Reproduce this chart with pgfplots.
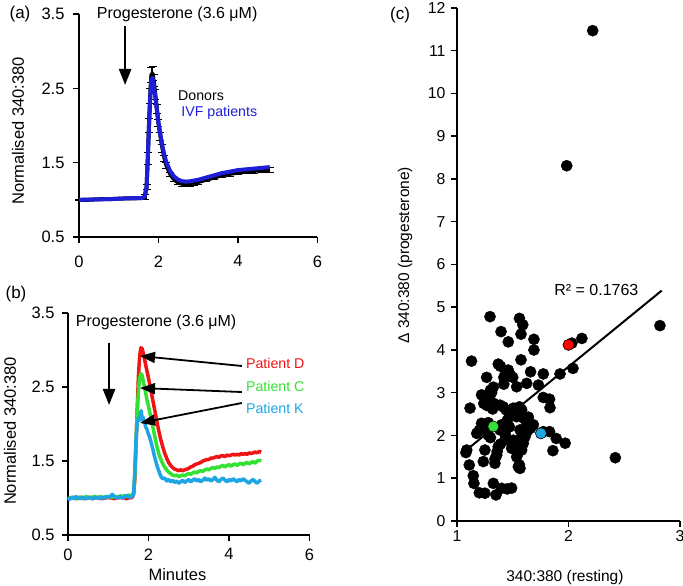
\documentclass[border=0pt]{standalone}
\usepackage{fontspec}
\setmainfont{Liberation Sans}
\usepackage{pgfplots}
\pgfplotsset{compat=1.18}
\usetikzlibrary{arrows.meta}

\definecolor{ivfblue}{RGB}{30,30,215}
\definecolor{pd}{RGB}{240,20,20}
\definecolor{pc}{RGB}{50,225,50}
\definecolor{pk}{RGB}{30,165,228}

\pgfplotsset{
  panel/.style={
    scale only axis, anchor=south west, clip=false,
    axis lines=left, axis line style={-, line width=1.8pt},
    tick style={line width=1.5pt, black},
    tick align=outside, major tick length=6pt,
    /pgf/number format/assume math mode=true,
    tick label style={font=\fontsize{16.5}{18}\selectfont},
    label style={font=\fontsize{16.5}{19}\selectfont},
  },
}
\tikzset{
  note/.style={font=\fontsize{16}{19}\selectfont, inner sep=0pt},
  small/.style={font=\fontsize{14.2}{17}\selectfont, inner sep=0pt},
  bigarrow/.style={line width=2.5pt, -{Triangle[length=16pt,width=12pt]}},
}

\begin{document}
\begin{tikzpicture}
\useasboundingbox (0,0) rectangle (683pt,586pt);

% ---------- (a) donors vs IVF patients
\begin{axis}[panel, at={(79pt,349pt)}, width=238.5pt, height=223pt,
  xmin=0, xmax=6, ymin=0.5, ymax=3.5,
  xtick={0,2,4,6}, ytick={0.5,1.5,2.5,3.5},
  xticklabel style={yshift=-9pt}, yticklabel style={xshift=-5pt},
  ylabel={Normalised 340:380},
  ylabel style={at={(axis description cs:-0.256,0.475)}, anchor=center}]
\addplot[black, line width=4pt, line join=round,
  error bars/.cd, y dir=both, y explicit,
  error bar style={line width=1pt},
  error mark options={rotate=90, line width=1pt, mark size=4pt, black}]
  table[x=x, y=y, y error=e] {
x y e
0.00 1.000 0.005
0.20 1.000 0.005
0.40 1.005 0.005
0.60 1.010 0.005
0.80 1.010 0.005
1.00 1.015 0.005
1.20 1.020 0.005
1.40 1.020 0.005
1.60 1.025 0.005
1.65 1.040 0.03
1.70 1.170 0.03
1.73 1.550 0.08
1.76 2.000 0.10
1.79 2.400 0.10
1.82 2.680 0.10
1.85 2.700 0.10
1.88 2.600 0.08
1.92 2.420 0.07
1.96 2.220 0.06
2.00 2.030 0.05
2.05 1.850 0.05
2.10 1.690 0.05
2.15 1.560 0.04
2.20 1.460 0.04
2.30 1.340 0.03
2.40 1.270 0.03
2.50 1.230 0.03
2.60 1.215 0.03
2.70 1.210 0.03
2.80 1.215 0.03
2.90 1.225 0.03
3.00 1.240 0.03
3.20 1.270 0.03
3.40 1.300 0.03
3.60 1.330 0.03
3.80 1.350 0.03
4.00 1.365 0.03
4.20 1.380 0.03
4.40 1.390 0.03
4.60 1.395 0.03
4.80 1.400 0.03
};
\addplot[ivfblue, line width=4pt, line join=round] coordinates {
(0.00,1.000) (0.40,1.005) (0.80,1.010) (1.20,1.020) (1.60,1.025)
(1.66,1.050) (1.70,1.170) (1.73,1.550) (1.76,1.980) (1.79,2.350)
(1.82,2.620) (1.85,2.640) (1.88,2.550) (1.92,2.380) (1.96,2.200)
(2.00,2.030) (2.05,1.870) (2.10,1.720) (2.15,1.600) (2.20,1.500)
(2.30,1.380) (2.40,1.310) (2.50,1.270) (2.60,1.250) (2.70,1.245)
(2.80,1.250) (3.00,1.270) (3.20,1.300) (3.40,1.330) (3.60,1.360)
(3.80,1.380) (4.00,1.400) (4.20,1.410) (4.40,1.420) (4.60,1.430)
(4.80,1.440)};
\node[note] at (axis cs:2.47,3.50) {Progesterone (3.6 μM)};
\draw[bigarrow] (axis cs:1.16,3.34) -- (axis cs:1.16,2.545);
\node[small, anchor=west] at (axis cs:2.49,2.40) {Donors};
\node[small, anchor=west, text=ivfblue] at (axis cs:2.57,2.17) {IVF patients};
\end{axis}

% ---------- (b) single patients
\begin{axis}[panel, at={(68pt,51pt)}, width=241.5pt, height=222pt,
  xmin=0, xmax=6, ymin=0.5, ymax=3.5,
  xtick={0,2,4,6}, ytick={0.5,1.5,2.5,3.5},
  xticklabel style={yshift=-4pt}, yticklabel style={xshift=-4pt},
  xlabel={Minutes},
  xlabel style={at={(axis description cs:0.453,-0.18)}, anchor=center},
  ylabel={Normalised 340:380},
  ylabel style={at={(axis description cs:-0.240,0.468)}, anchor=center}]
\addplot[pd, line width=3.5pt, line join=round] coordinates {
(0.00,1.00) (0.05,0.99) (0.10,1.01) (0.15,1.00) (0.20,0.99) (0.25,1.00)
(0.30,1.01) (0.35,1.00) (0.40,0.99) (0.45,1.00) (0.50,1.00) (0.55,1.01)
(0.60,0.99) (0.65,1.00) (0.70,1.00) (0.75,1.01) (0.80,1.00) (0.85,0.99)
(0.90,1.00) (0.95,1.00) (1.00,1.01) (1.05,1.00) (1.10,1.00) (1.15,0.99)
(1.20,1.00) (1.25,1.00) (1.30,1.01) (1.35,1.00) (1.40,1.00) (1.45,0.99)
(1.50,1.00) (1.55,1.00) (1.60,1.01) (1.63,1.05) (1.66,1.25) (1.69,1.70)
(1.72,2.20) (1.75,2.65) (1.78,2.92) (1.81,3.03) (1.84,3.02) (1.87,2.96)
(1.90,2.88) (1.93,2.80) (1.96,2.72) (2.00,2.62) (2.05,2.48) (2.10,2.34)
(2.15,2.20) (2.20,2.06) (2.25,1.92) (2.30,1.80) (2.35,1.70) (2.40,1.61)
(2.45,1.54) (2.50,1.48) (2.55,1.44) (2.60,1.41) (2.65,1.39) (2.70,1.38)
(2.75,1.37) (2.80,1.38) (2.85,1.37) (2.90,1.38) (2.95,1.39) (3.00,1.40)
(3.05,1.42) (3.10,1.43) (3.15,1.45) (3.20,1.46) (3.25,1.47) (3.30,1.48)
(3.35,1.50) (3.40,1.51) (3.45,1.52) (3.50,1.52) (3.55,1.54) (3.60,1.54)
(3.65,1.55) (3.70,1.56) (3.75,1.55) (3.80,1.57) (3.85,1.57) (3.90,1.56)
(3.95,1.58) (4.00,1.57) (4.05,1.58) (4.10,1.59) (4.15,1.58) (4.20,1.59)
(4.25,1.58) (4.30,1.60) (4.35,1.59) (4.40,1.60) (4.45,1.59) (4.50,1.61)
(4.55,1.60) (4.60,1.61) (4.65,1.62) (4.70,1.61) (4.75,1.63) (4.80,1.62)};
\addplot[pc, line width=3.5pt, line join=round] coordinates {
(0.00,0.99) (0.05,1.00) (0.10,1.00) (0.15,1.01) (0.20,0.99) (0.25,1.00)
(0.30,1.01) (0.35,1.01) (0.40,1.00) (0.45,1.02) (0.50,1.01) (0.55,1.00)
(0.60,1.01) (0.65,1.02) (0.70,1.01) (0.75,1.00) (0.80,1.02) (0.85,1.01)
(0.90,1.01) (0.95,1.02) (1.00,1.01) (1.05,1.02) (1.10,1.01) (1.15,1.02)
(1.20,1.02) (1.25,1.01) (1.30,1.03) (1.35,1.02) (1.40,1.03) (1.45,1.02)
(1.50,1.04) (1.55,1.03) (1.60,1.04) (1.63,1.08) (1.66,1.30) (1.69,1.75)
(1.72,2.15) (1.75,2.45) (1.78,2.62) (1.81,2.68) (1.84,2.66) (1.87,2.58)
(1.90,2.50) (1.93,2.42) (1.96,2.33) (2.00,2.24) (2.05,2.11) (2.10,1.98)
(2.15,1.85) (2.20,1.72) (2.25,1.61) (2.30,1.53) (2.35,1.47) (2.40,1.42)
(2.45,1.38) (2.50,1.35) (2.55,1.33) (2.60,1.31) (2.65,1.30) (2.70,1.31)
(2.75,1.29) (2.80,1.30) (2.85,1.31) (2.90,1.30) (2.95,1.32) (3.00,1.33)
(3.05,1.32) (3.10,1.34) (3.15,1.35) (3.20,1.34) (3.25,1.36) (3.30,1.37)
(3.35,1.36) (3.40,1.38) (3.45,1.39) (3.50,1.38) (3.55,1.40) (3.60,1.41)
(3.65,1.40) (3.70,1.42) (3.75,1.41) (3.80,1.43) (3.85,1.44) (3.90,1.42)
(3.95,1.44) (4.00,1.45) (4.05,1.43) (4.10,1.45) (4.15,1.46) (4.20,1.44)
(4.25,1.46) (4.30,1.47) (4.35,1.45) (4.40,1.47) (4.45,1.48) (4.50,1.46)
(4.55,1.48) (4.60,1.49) (4.65,1.47) (4.70,1.50) (4.75,1.51) (4.80,1.50)};
\addplot[pk, line width=3.5pt, line join=round] coordinates {
(0.00,0.97) (0.05,0.99) (0.10,1.01) (0.15,0.99) (0.20,1.02) (0.25,1.00)
(0.30,0.99) (0.35,1.01) (0.40,1.00) (0.45,0.99) (0.50,1.00) (0.55,1.01)
(0.60,0.99) (0.65,1.00) (0.70,1.01) (0.75,1.00) (0.80,0.99) (0.85,1.01)
(0.90,1.00) (0.95,1.02) (1.00,1.01) (1.05,1.02) (1.10,1.05) (1.15,1.02)
(1.20,1.00) (1.25,1.01) (1.30,1.02) (1.35,1.00) (1.40,1.01) (1.45,1.03)
(1.50,1.02) (1.55,1.01) (1.60,1.02) (1.63,1.06) (1.66,1.35) (1.69,1.80)
(1.72,2.02) (1.75,2.08) (1.78,2.05) (1.80,2.14) (1.82,2.18) (1.84,2.06)
(1.86,2.10) (1.88,2.02) (1.90,2.04) (1.93,1.96) (1.96,1.93) (2.00,1.86)
(2.03,1.82) (2.06,1.76) (2.10,1.68) (2.14,1.58) (2.18,1.50) (2.22,1.42)
(2.26,1.36) (2.30,1.30) (2.35,1.26) (2.40,1.27) (2.45,1.23) (2.50,1.25)
(2.55,1.22) (2.60,1.24) (2.65,1.21) (2.70,1.23) (2.75,1.20) (2.80,1.22)
(2.85,1.24) (2.90,1.21) (2.95,1.23) (3.00,1.25) (3.05,1.22) (3.10,1.24)
(3.15,1.26) (3.20,1.23) (3.25,1.25) (3.30,1.22) (3.35,1.24) (3.40,1.27)
(3.45,1.24) (3.50,1.26) (3.55,1.23) (3.60,1.25) (3.65,1.28) (3.70,1.24)
(3.75,1.22) (3.80,1.25) (3.85,1.27) (3.90,1.24) (3.95,1.22) (4.00,1.25)
(4.05,1.23) (4.10,1.26) (4.15,1.24) (4.20,1.22) (4.25,1.25) (4.30,1.23)
(4.35,1.26) (4.40,1.24) (4.45,1.22) (4.50,1.20) (4.55,1.23) (4.60,1.25)
(4.65,1.22) (4.70,1.20) (4.75,1.23) (4.80,1.24)};
\node[note] at (axis cs:2.19,3.378) {Progesterone (3.6 μM)};
\draw[bigarrow] (axis cs:1.02,3.09) -- (axis cs:1.02,2.257);
\draw[line width=1.8pt, -{Triangle[length=15pt,width=11pt]}] (axis cs:4.32,2.784) -- (axis cs:1.79,2.919);
\draw[line width=1.8pt, -{Triangle[length=15pt,width=11pt]}] (axis cs:4.32,2.432) -- (axis cs:1.79,2.486);
\draw[line width=1.8pt, -{Triangle[length=15pt,width=11pt]}] (axis cs:4.32,2.284) -- (axis cs:1.79,2.014);
\node[small, anchor=west, text=pd] at (axis cs:4.42,2.824) {Patient D};
\node[small, anchor=west, text=pc] at (axis cs:4.42,2.51) {Patient C};
\node[small, anchor=west, text=pk] at (axis cs:4.42,2.216) {Patient K};
\end{axis}

% ---------- (c) resting vs response
\begin{axis}[panel, at={(457pt,65pt)}, width=223pt, height=513pt,
  xmin=1, xmax=3, ymin=0, ymax=12,
  xtick={1,2,3}, ytick={0,1,...,12},
  tick label style={font=\fontsize{15.8}{17}\selectfont},
  yticklabel style={xshift=-2pt},
  label style={font=\fontsize{15.5}{18}\selectfont},
  xlabel={340:380 (resting)},
  xlabel style={at={(axis description cs:0.484,-0.111)}, anchor=center},
  ylabel={Δ 340:380 (progesterone)},
  ylabel style={at={(axis description cs:-0.233,0.518)}, anchor=center}]
\addplot[only marks, mark=*, mark size=5.6pt,
  mark options={fill=black, draw=black, line width=0.4pt}] coordinates {
(1.296,4.78) (1.56,4.74) (1.59,4.59) (1.574,4.37) (1.395,4.43) (1.46,4.19)
(1.69,4.25) (1.69,4.00) (2.03,4.16) (2.12,4.27) (1.13,3.74) (1.574,3.77)
(1.37,3.67) (1.39,3.62) (1.46,3.53) (1.44,3.48) (1.66,3.49) (1.774,3.44)
(1.924,3.44) (2.04,3.57) (1.266,3.36) (1.42,3.36) (1.50,3.36) (1.48,3.41)
(1.625,3.22) (1.73,3.18) (1.535,3.14) (1.42,3.20) (1.326,3.13) (1.30,3.06)
(1.22,2.95) (1.25,2.90) (1.28,2.92) (1.31,3.00) (1.266,2.83) (1.30,2.80)
(1.24,2.75) (1.27,2.70) (1.296,2.69) (1.33,2.75) (1.32,2.62) (1.117,2.64)
(1.386,2.71) (1.415,2.67) (1.44,2.60) (1.49,2.60) (1.505,2.64) (1.56,2.67)
(1.58,2.60) (1.774,2.89) (1.83,2.85) (1.834,2.65) (1.64,2.43) (1.535,2.44)
(1.535,2.52) (1.60,2.40) (1.47,2.45) (1.685,2.25) (1.774,2.09) (1.83,2.09)
(1.89,1.93) (1.97,1.82) (1.86,1.645) (1.22,2.285) (1.25,2.20) (1.28,2.30)
(1.177,2.05) (1.20,2.12) (1.28,2.01) (1.30,1.95) (1.386,2.13) (1.40,2.25)
(1.43,2.05) (1.44,1.95) (1.43,1.89) (1.45,2.35) (1.47,2.20) (1.37,1.74)
(1.39,1.80) (1.36,1.62) (1.356,1.54) (1.34,1.45) (1.34,1.35) (1.25,1.66)
(1.236,1.39) (1.087,1.66) (1.08,1.60) (1.11,1.31) (1.146,1.06) (1.152,0.88)
(1.20,0.66) (1.25,0.65) (1.326,0.88) (1.35,0.61) (1.40,0.765) (1.45,0.75)
(1.49,0.77) (1.565,2.13) (1.625,2.25) (1.60,2.05) (1.58,1.97) (1.61,1.97)
(1.505,1.89) (1.51,1.79) (1.58,1.74) (1.595,1.82) (1.535,1.50) (1.55,1.60)
(1.58,1.66) (1.55,1.27) (1.56,1.31) (1.565,1.23) (1.63,2.10) (1.66,2.17)
(1.50,1.75) (1.49,1.70) (1.50,2.52) (1.53,2.55) (2.82,4.57) (2.42,1.48)
(2.217,11.47) (1.984,8.31)};
\addplot[only marks, mark=*, mark size=5.6pt,
  mark options={fill=red, draw=black, line width=0.6pt}] coordinates {(2.0,4.12)};
\addplot[only marks, mark=*, mark size=5.6pt,
  mark options={fill=pc, draw=black, line width=0.6pt}] coordinates {(1.326,2.21)};
\addplot[only marks, mark=*, mark size=5.6pt,
  mark options={fill=pk, draw=black, line width=0.6pt}] coordinates {(1.753,2.05)};
\addplot[black, line width=2pt] coordinates {(1.08,1.65) (2.836,5.39)};
\node[note] at (axis cs:2.25,5.40) {R² = 0.1763};
\end{axis}

% panel letters
\node[note, font=\fontsize{17}{19}\selectfont] at (20pt,572pt) {(a)};
\node[note, font=\fontsize{17}{19}\selectfont] at (16pt,292pt) {(b)};
\node[note, font=\fontsize{17}{19}\selectfont] at (400pt,571pt) {(c)};
\end{tikzpicture}
\end{document}
